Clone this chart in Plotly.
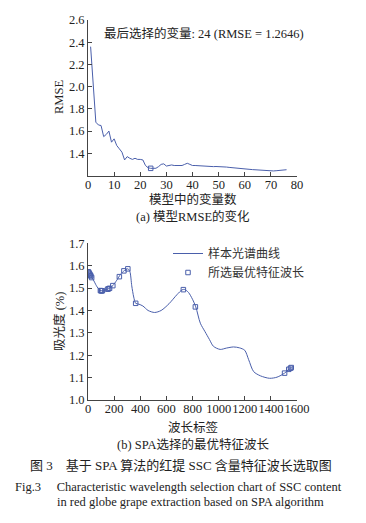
import plotly.graph_objects as go

W, H = 366, 523

# ---- (a) RMSE vs number of variables ----
n_vars = list(range(1, 77))
rmse = [2.36, 2.00, 1.68, 1.655, 1.65, 1.55, 1.57, 1.60, 1.50, 1.53,
        1.47, 1.44, 1.41, 1.34, 1.37, 1.355, 1.345, 1.355, 1.345, 1.345,
        1.34, 1.29, 1.27, 1.2646, 1.265, 1.265, 1.28, 1.30, 1.305, 1.285,
        1.29, 1.295, 1.29, 1.29, 1.295, 1.29, 1.30, 1.31, 1.30, 1.29,
        1.29, 1.288, 1.285, 1.283, 1.281, 1.28, 1.28, 1.28, 1.281, 1.281,
        1.28, 1.279, 1.276, 1.273, 1.27, 1.267, 1.265, 1.263, 1.261, 1.259,
        1.258, 1.255, 1.253, 1.251, 1.249, 1.247, 1.245, 1.243, 1.241, 1.24,
        1.241, 1.243, 1.246, 1.249, 1.251, 1.252]
best_n = [24]
best_rmse = [1.2646]

# ---- (b) spectrum and selected wavelengths ----
wl = [0, 20, 40, 60, 80, 100, 120, 140, 160, 190, 220, 250, 280, 305, 320, 335,
      350, 365, 390, 420, 460, 510, 560, 620, 680, 720, 740, 770, 800, 825, 860,
      896, 930, 960, 1012, 1060, 1114, 1160, 1200, 1230, 1268, 1320, 1390, 1447,
      1505, 1537, 1558]
absorb = [1.575, 1.556, 1.538, 1.515, 1.497, 1.488, 1.489, 1.493, 1.498, 1.511,
          1.535, 1.562, 1.579, 1.586, 1.575, 1.51, 1.46, 1.432, 1.428, 1.42,
          1.40, 1.391, 1.40, 1.43, 1.47, 1.492, 1.494, 1.48, 1.45, 1.416,
          1.343, 1.305, 1.27, 1.24, 1.226, 1.232, 1.237, 1.233, 1.222, 1.18,
          1.127, 1.108, 1.097, 1.102, 1.12, 1.137, 1.145]
sel_wl = [3, 8, 13, 18, 22, 28, 95, 100, 105, 110, 150, 158, 165, 190, 240,
          275, 305, 365, 730, 822, 1505, 1537, 1550, 1556]
sel_abs = [1.573, 1.568, 1.563, 1.558, 1.554, 1.547, 1.489, 1.488, 1.488, 1.488,
           1.495, 1.497, 1.499, 1.511, 1.551, 1.577, 1.586, 1.432, 1.493, 1.416,
           1.12, 1.137, 1.142, 1.145]

BLUE = "#4a5fab"
AX = "#444444"
SERIF = "Liberation Serif, Times New Roman, Noto Sans CJK SC, serif"
CJK = "Liberation Serif, Noto Sans CJK SC, serif"


def px_x(p):
    return p / W


def px_y(p):
    return 1 - p / H


fig = go.Figure()
fig.add_trace(go.Scatter(x=n_vars, y=rmse, mode="lines", line=dict(color=BLUE, width=1),
                         showlegend=False, xaxis="x", yaxis="y"))
fig.add_trace(go.Scatter(x=best_n, y=best_rmse, mode="markers",
                         marker=dict(symbol="square-open", size=4.5, color=BLUE, line=dict(width=1)),
                         showlegend=False, xaxis="x", yaxis="y"))
fig.add_trace(go.Scatter(x=wl, y=absorb, mode="lines", line=dict(color=BLUE, width=1, shape="spline", smoothing=0.8),
                         name="样本光谱曲线", xaxis="x2", yaxis="y2"))
fig.add_trace(go.Scatter(x=sel_wl, y=sel_abs, mode="markers",
                         marker=dict(symbol="square-open", size=4.5, color=BLUE, line=dict(width=1)),
                         name="所选最优特征波长", xaxis="x2", yaxis="y2"))

axis_common = dict(showline=True, linecolor=AX, linewidth=1, ticks="inside", ticklen=4,
                   tickcolor=AX, showgrid=False, zeroline=False, automargin=False, tickangle=0,
                   tickfont=dict(family=SERIF, size=12.5, color="#222"))
xdom = [px_x(88), px_x(297)]

fig.update_layout(
    width=W, height=H, margin=dict(l=0, r=0, t=0, b=0, autoexpand=False),
    paper_bgcolor="white", plot_bgcolor="white",
    xaxis=dict(domain=xdom, range=[0, 80], tickvals=list(range(0, 81, 10)), anchor="y",
               ticklabelstandoff=-3, **axis_common),
    yaxis=dict(domain=[px_y(175.5), px_y(20)], range=[1.2, 2.6001],
               tickvals=[1.4, 1.6, 1.8, 2.0, 2.2, 2.4, 2.6], tickformat=".1f", anchor="x", **axis_common),
    xaxis2=dict(domain=xdom, range=[0, 1600], tickvals=list(range(0, 1601, 200)), anchor="y2",
                ticklabelstandoff=-3, **axis_common),
    yaxis2=dict(domain=[px_y(400), px_y(243.3)], range=[1.0, 1.7001],
                tickvals=[1.0, 1.1, 1.2, 1.3, 1.4, 1.5, 1.6, 1.7], tickformat=".1f", anchor="x2", **axis_common),
    legend=dict(x=px_x(168), y=px_y(239), xanchor="left", yanchor="top",
                font=dict(family=CJK, size=12, color="#333"), bgcolor="rgba(0,0,0,0)",
                itemwidth=30, tracegroupgap=2),
    showlegend=True,
)

ann = [
    dict(text="最后选择的变量: 24 (RMSE = 1.2646)", x=px_x(204), y=px_y(33), size=12.5),
    dict(text="RMSE", x=px_x(59), y=px_y(97), size=12.5, angle=-90),
    dict(text="模型中的变量数", x=px_x(193), y=px_y(199.5), size=12.5),
    dict(text="(a) 模型RMSE的变化", x=px_x(193), y=px_y(216), size=12.5),
    dict(text="吸光度 (%)", x=px_x(59), y=px_y(322), size=12.5, angle=-90),
    dict(text="波长标签", x=px_x(193), y=px_y(427.5), size=12.5),
    dict(text="(b) SPA选择的最优特征波长", x=px_x(193), y=px_y(444), size=12.5),
    dict(text="图 3　基于 SPA 算法的红提 SSC 含量特征波长选取图", x=px_x(181), y=px_y(465), size=13),
    dict(text="Fig.3　 Characteristic wavelength selection chart of SSC content", x=px_x(178), y=px_y(487), size=12.5),
    dict(text="in red globe grape extraction based on SPA algorithm", x=px_x(190), y=px_y(502), size=12.5),
]
for a in ann:
    fig.add_annotation(text=a["text"], x=a["x"], y=a["y"], xref="paper", yref="paper",
                       showarrow=False, xanchor="center", yanchor="middle",
                       textangle=a.get("angle", 0),
                       font=dict(family=CJK, size=a["size"], color="#222"))

fig.write_html("out.html", post_script="document.body.style.margin='0';",
               config={"displayModeBar": False})
